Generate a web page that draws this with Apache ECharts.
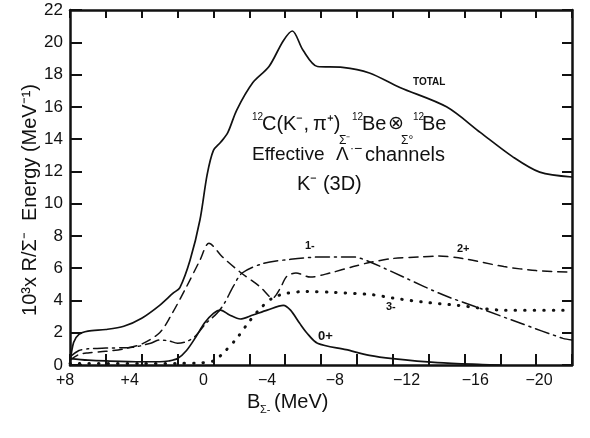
<!DOCTYPE html>
<html>
<head>
<meta charset="utf-8">
<script src="https://cdn.jsdelivr.net/npm/echarts@6/dist/echarts.min.js"></script>
<style>
  html, body { margin: 0; padding: 0; background: #fff; }
  #main { width: 590px; height: 438px; }
</style>
</head>
<body>
<div id="main"></div>
<script>
// binding energy B (MeV) and strength for each channel
var totalE = [8, 7.8, 7.5, 7, 6, 5, 4, 3, 2.25, 1.87, 1.3, 0.75, 0.35, 0, -0.4, -0.8, -1.3, -2.2, -3.1, -3.9, -4.4, -5, -5.8, -7.2, -8.7, -10.4, -13, -14.9, -16.7, -18.2, -20];
var totalR = [0.1, 1.4, 1.9, 2.1, 2.2, 2.4, 2.9, 3.7, 4.45, 4.8, 6.5, 9.0, 11.8, 13.3, 13.8, 14.4, 15.8, 17.5, 18.5, 20.1, 20.7, 19.5, 18.5, 18.45, 18.1, 17.2, 16.0, 14.4, 12.9, 11.95, 11.65];

var zeroE = [8, 7, 6, 4, 3, 2.5, 2, 1.5, 1, 0.5, 0, -0.4, -0.9, -1.5, -2.2, -3, -3.9, -4.3, -4.8, -5.2, -5.8, -7.4, -8.7, -10, -12.5, -15, -16];
var zeroR = [0.4, 0.3, 0.25, 0.2, 0.2, 0.25, 0.4, 0.9, 1.7, 2.6, 3.2, 3.4, 3.1, 2.85, 3.1, 3.4, 3.7, 3.4, 2.6, 2.0, 1.35, 0.95, 0.6, 0.4, 0.15, 0.03, 0];

var oneE = [8, 7.5, 7, 6, 4.5, 3.5, 3, 2.5, 2, 1.5, 1, 0.4, -0.2, -0.6, -1.1, -1.6, -2.8, -4.3, -6.1, -7.8, -8.7, -10.6, -12.8, -14.9, -17.1, -19.5, -20];
var oneR = [0.5, 0.9, 1.0, 1.05, 1.1, 1.35, 1.55, 1.5, 1.35, 1.45, 1.8, 2.6, 3.2, 3.8, 4.85, 5.7, 6.3, 6.55, 6.7, 6.7, 6.4, 5.45, 4.35, 3.5, 2.6, 1.65, 1.55];

var twoE = [8, 7.5, 7, 6, 5, 4, 3, 2.4, 1.5, 0.75, 0.25, -0.5, -1.5, -2.6, -3.3, -3.7, -4.1, -4.6, -5.4, -6.5, -7.8, -8.7, -10, -11.5, -12.5, -13.9, -16.2, -18, -20];
var twoR = [0.3, 0.65, 0.75, 0.85, 1.0, 1.3, 2.0, 3.0, 4.85, 6.5, 7.55, 6.7, 5.75, 4.85, 4.15, 4.7, 5.5, 5.7, 5.45, 5.7, 6.1, 6.35, 6.6, 6.7, 6.75, 6.6, 6.1, 5.85, 5.75];

var threeE = [8, 4, 2, 1, 0, -0.55, -1.3, -2.0, -2.7, -3.3, -4.1, -5.2, -6.7, -8.9, -10, -11.7, -13.6, -16.2, -19.5, -20];
var threeR = [0.1, 0.1, 0.1, 0.12, 0.25, 0.75, 1.65, 2.7, 3.6, 4.15, 4.45, 4.55, 4.5, 4.35, 4.15, 3.9, 3.7, 3.4, 3.4, 3.4];

var yTicks = [0, 2, 4, 6, 8, 10, 12, 14, 16, 18, 20, 22];
var xTicks = [8, 4, 0, -4, -8, -12, -16, -20];

function pairs(xs, ys) {
  var out = [];
  for (var i = 0; i < xs.length; i++) out.push([xs[i], ys[i]]);
  return out;
}

var ink = '#111';
var font = 'Liberation Sans';

function curve(name, xs, ys, type, width) {
  return {
    name: name,
    type: 'line',
    data: pairs(xs, ys),
    showSymbol: false,
    smooth: 0.3,
    silent: true,
    lineStyle: { color: ink, width: width || 1.6, type: type, cap: 'round' }
  };
}

function txt(x, y, s, size, weight) {
  return {
    type: 'text', left: x, top: y, silent: true,
    style: { text: s, fill: ink, font: (weight || 'normal') + ' ' + size + 'px "' + font + '"' }
  };
}

// x tick labels in the figure sit left of their ticks
var xShift = { '8': 5, '4': 12, '0': 10, '-4': 18, '-8': 22, '-12': 22, '-16': 25, '-20': 33 };
var xRich = {};
xTicks.forEach(function (v, i) {
  xRich['t' + i] = { color: ink, fontSize: 16, fontFamily: font, padding: [0, 2 * xShift[String(v)], 0, 0] };
});

var chart = echarts.init(document.getElementById('main'), null, { renderer: 'canvas' });

var option = {
  animation: false,
  backgroundColor: '#fff',
  grid: { left: 70, right: 18, top: 10, bottom: 73 },
  xAxis: [{
    type: 'value', min: -20, max: 8, interval: 2, inverse: true,
    axisLine: { onZero: false, lineStyle: { color: ink, width: 2.5 } },
    axisTick: { inside: true, length: 11, lineStyle: { color: ink, width: 2 } },
    splitLine: { show: false },
    axisLabel: {
      margin: 8,
      rich: xRich,
      formatter: function (v) {
        var i = xTicks.indexOf(v);
        if (i < 0) return '';
        var s = v > 0 ? '+' + v : (v < 0 ? '\u2212' + (-v) : '0');
        return '{t' + i + '|' + s + '}';
      }
    }
  }, {
    type: 'value', min: -20, max: 8, interval: 2, inverse: true, position: 'top',
    axisLine: { onZero: false, lineStyle: { color: ink, width: 2.5 } },
    axisTick: { inside: true, length: 8, lineStyle: { color: ink, width: 2 } },
    axisLabel: { show: false }, splitLine: { show: false }
  }],
  yAxis: [{
    type: 'value', min: 0, max: 22, interval: 2,
    axisLine: { onZero: false, lineStyle: { color: ink, width: 2.5 } },
    axisTick: { inside: true, length: 12, lineStyle: { color: ink, width: 2 } },
    splitLine: { show: false },
    axisLabel: {
      color: ink, fontSize: 17, fontFamily: font, margin: 7,
      formatter: function (v) { return yTicks.indexOf(v) >= 0 ? String(v) : ''; }
    }
  }, {
    type: 'value', min: 0, max: 22, interval: 2, position: 'right',
    axisLine: { onZero: false, lineStyle: { color: ink, width: 2.5 } },
    axisTick: { inside: true, length: 10, lineStyle: { color: ink, width: 2 } },
    axisLabel: { show: false }, splitLine: { show: false }
  }],
  series: [
    curve('TOTAL', totalE, totalR, 'solid', 1.7),
    curve('0+', zeroE, zeroR, 'solid', 1.7),
    curve('1-', oneE, oneR, [14, 5, 2, 5], 1.5),
    curve('2+', twoE, twoR, [9, 6], 1.5),
    curve('3-', threeE, threeR, [0.5, 9], 3)
  ],
  graphic: [
    // y axis title, rotated
    {
      type: 'text', x: 30, y: 200, rotation: Math.PI / 2, silent: true,
      style: {
        text: '10\u00b3x R/\u03a3\u207b  Energy (MeV\u207b\u00b9)', fill: ink,
        font: '20px "' + font + '"', align: 'center', verticalAlign: 'middle'
      }
    },
    // reaction: 12C(K-, pi+) Sigma- 12Be (x) Sigma0 12Be
    txt(252, 112, '12', 10), txt(262, 114, 'C(K\u207b,\u2009\u03c0\u207a)', 20),
    txt(339, 135, '\u03a3\u207b', 12), txt(352, 112, '12', 10), txt(362, 114, 'Be', 20),
    txt(388, 114, '\u2297', 19), txt(401, 135, '\u03a3\u00b0', 12), txt(413, 112, '12', 10), txt(422, 114, 'Be', 20),
    txt(252, 145, 'Effective', 19), txt(336, 145, '\u039b', 19), txt(350, 143, '\u00b7', 12),
    txt(354, 142, '\u2212', 14), txt(365, 145, 'channels', 20),
    txt(297, 174, 'K\u207b (3D)', 20),
    // curve tags
    txt(413, 77, 'TOTAL', 10, 'bold'),
    txt(305, 240, '1-', 11, 'bold'),
    txt(457, 243, '2+', 11, 'bold'),
    txt(386, 301, '3-', 11, 'bold'),
    txt(318, 330, '0+', 13, 'bold'),
    // x axis title
    txt(247, 392, 'B', 20), txt(260, 404, '\u03a3-', 11), txt(274, 392, '(MeV)', 20)
  ]
};

chart.setOption(option);
</script>
</body>
</html>
